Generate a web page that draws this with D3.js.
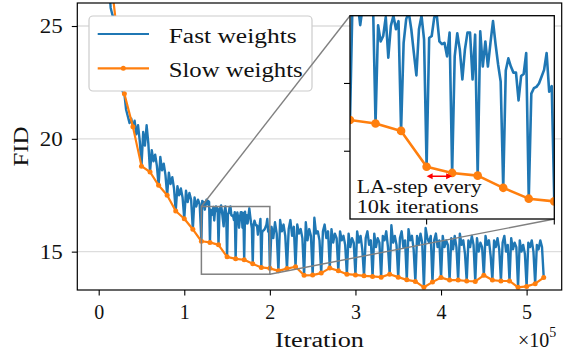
<!DOCTYPE html>
<html><head><meta charset="utf-8">
<script src="https://cdn.jsdelivr.net/npm/d3@7"></script>
<style>
body{margin:0;background:#fff}
svg{display:block}
svg text{font-family:"Liberation Serif","DejaVu Serif","Noto Serif",serif !important;fill:#111}
</style>
</head><body>
<svg id="c" width="569" height="353"></svg>
<script>
// ---------------- data ----------------
// Slow weights: one value every 10k iterations (0 .. 520k)
const slowStep = 10000;
const slowFID = [50, 28.5, 25.2, 22.0, 20.53, 18.79, 18.53, 17.94, 17.50, 16.80,
  16.46, 15.99, 15.46, 15.41, 15.30, 14.77, 14.68, 14.64, 14.46, 14.30,
  14.26, 14.15, 14.25, 14.33, 13.95, 13.96, 14.05, 14.27, 14.15, 14.00,
  13.97, 13.93, 13.90, 13.87, 14.00, 13.87, 13.75, 13.68, 13.42, 13.65,
  13.85, 13.74, 13.74, 13.70, 13.68, 13.95, 13.74, 13.70, 13.70, 13.42,
  13.46, 13.58, 13.85];

// Fast weights, part A: 0 .. 118k every 2k
const fastAStart = 0, fastAStep = 2000;
const fastA = [
  60, 45, 38, 33, 30.5,
  28.5, 26.8, 25.8, 25.5, 25.3,
  25.2, 24.2, 23.3, 22.4, 22.1,
  22.0, 21.3, 21.0, 20.7, 20.9,
  20.53, 20.8, 20.2, 20.6, 19.9,
  18.79, 20.3, 19.7, 20.6, 19.8,
  18.53, 19.5, 19.0, 19.3, 18.8,
  17.94, 19.2, 18.6, 18.9, 18.4,
  17.50, 18.5, 18.0, 18.3, 17.8,
  16.80, 17.9, 17.5, 17.8, 17.4,
  16.46, 17.7, 17.2, 17.6, 17.3,
  15.99, 17.4, 17.0, 17.3, 17.1];
// Fast weights, part B: 120k .. 199k every 1k
const fastBStart = 120000, fastBStep = 1000;
const fastB = [
  15.46, 17.25, 17.1, 17.2, 16.86, 17.15, 17.3, 17.1, 17.25, 17.2,
  15.41, 16.86, 16.62, 16.7, 16.98, 16.38, 16.85, 17.0, 16.8, 16.92,
  15.30, 16.6, 16.95, 17.05, 16.8, 16.45, 16.12, 16.8, 17.0, 16.65,
  14.77, 16.67, 16.7, 16.98, 17.0, 16.62, 16.58, 16.6, 16.4, 16.75,
  14.68, 16.4, 16.74, 16.5, 16.06, 16.5, 16.75, 16.75, 16.06, 16.72,
  14.64, 16.77, 16.25, 16.62, 16.25, 16.6, 16.92, 16.58, 16.28, 16.03,
  14.46, 16.19, 16.37, 16.25, 16.16, 16.16, 15.75, 16.11, 16.14, 16.45,
  14.30, 15.85, 15.93, 15.95, 16.0, 16.1, 16.2, 16.45, 15.88, 15.96];
// Fast weights, part C: 200k .. 520k every 2k
const fastCStart = 200000, fastCStep = 2000;
const fastC = [
  14.26, 16.1, 15.6, 16.3, 15.8,
  14.15, 16.4, 15.9, 16.2, 15.7,
  14.25, 16.0, 16.4, 15.7, 16.1,
  14.33, 16.2, 15.8, 16.0, 15.6,
  13.95, 16.3, 15.5, 16.0, 15.7,
  13.96, 16.5, 15.8, 15.9, 15.5,
  14.05, 15.9, 16.2, 15.6, 15.9,
  14.27, 16.0, 15.4, 15.8, 15.6,
  14.15, 15.9, 15.5, 15.7, 15.3,
  14.00, 15.8, 15.2, 15.6, 15.4,
  13.97, 15.9, 15.4, 15.7, 15.1,
  13.93, 15.6, 15.9, 15.3, 15.5,
  13.90, 15.8, 15.2, 15.6, 15.4,
  13.87, 15.7, 15.5, 15.9, 15.2,
  14.00, 16.17, 15.4, 15.7, 15.3,
  13.87, 15.6, 15.9, 15.2, 15.5,
  13.75, 16.0, 15.5, 15.7, 15.1,
  13.68, 15.7, 15.3, 15.8, 15.4,
  13.42, 16.05, 15.6, 15.4, 15.7,
  13.65, 15.5, 15.8, 15.2, 15.5,
  13.85, 15.7, 15.2, 15.5, 15.3,
  13.74, 15.6, 15.1, 15.7, 15.2,
  13.74, 15.8, 15.3, 15.5, 14.9,
  13.70, 15.5, 15.2, 15.7, 15.3,
  13.68, 15.6, 15.0, 15.4, 15.2,
  13.95, 15.7, 15.3, 15.5, 14.8,
  13.74, 15.5, 15.2, 15.6, 15.1,
  13.70, 15.4, 15.7, 15.0, 15.3,
  13.70, 15.6, 15.1, 15.4, 15.2,
  13.42, 15.5, 15.0, 15.3, 14.9,
  13.46, 15.4, 15.2, 15.5, 15.0,
  13.58, 15.3, 15.1, 15.5, 15.2,
  13.85];

const xTicks = [0, 100000, 200000, 300000, 400000, 500000];
const xTickLabels = ["0", "1", "2", "3", "4", "5"];
const yTicks = [15, 20, 25];
const insetXTicks = [150000, 200000];
const insetYTicks = [15, 16];
const seriesNames = ["Fast weights", "Slow weights"];
const zoomX = [120000, 200000], zoomY = [14, 17];
const laSpan = [150000, 160000], laY = 14.63;

// ---------------- build ----------------
const FONT = '"Liberation Serif","DejaVu Serif","Noto Serif",serif';
const fastPts = [];
fastA.forEach((v, i) => fastPts.push([fastAStart + i * fastAStep, v]));
fastB.forEach((v, i) => fastPts.push([fastBStart + i * fastBStep, v]));
fastC.forEach((v, i) => fastPts.push([fastCStart + i * fastCStep, v]));
const slowPts = slowFID.map((v, i) => [i * slowStep, v]);

const BLUE = "#1f77b4", ORANGE = "#ff7f0e";
const svg = d3.select("#c");
const L = 77.3, R = 561.7, T = 3, B = 290;
const x = d3.scaleLinear().domain([-25000, 541000]).range([L, R]);
const y = d3.scaleLinear().domain([13.3, 26.02]).range([B, T]);

const defs = svg.append("defs");
defs.append("clipPath").attr("id", "mainClip").append("rect")
  .attr("x", L).attr("y", T).attr("width", R - L).attr("height", B - T);

// grid
svg.append("g").selectAll("line").data(yTicks).join("line")
  .attr("x1", L).attr("x2", R).attr("y1", d => y(d)).attr("y2", d => y(d))
  .attr("stroke", "#dddddd").attr("stroke-width", 1.3);

const lineMain = d3.line().x(d => x(d[0])).y(d => y(d[1]));
const gMain = svg.append("g").attr("clip-path", "url(#mainClip)");
gMain.append("path").datum(fastPts).attr("d", lineMain)
  .attr("fill", "none").attr("stroke", BLUE).attr("stroke-width", 2.4).attr("stroke-linejoin", "round");
gMain.append("path").datum(slowPts).attr("d", lineMain)
  .attr("fill", "none").attr("stroke", ORANGE).attr("stroke-width", 2.2).attr("stroke-linejoin", "round");
gMain.selectAll("circle").data(slowPts).join("circle")
  .attr("cx", d => x(d[0])).attr("cy", d => y(d[1])).attr("r", 2.5).attr("fill", ORANGE);

// zoom indicator rectangle
svg.append("rect")
  .attr("x", x(zoomX[0])).attr("y", y(zoomY[1]))
  .attr("width", x(zoomX[1]) - x(zoomX[0])).attr("height", y(zoomY[0]) - y(zoomY[1]))
  .attr("fill", "none").attr("stroke", "#808080").attr("stroke-width", 1.5);

// axes
const FS = 20;
const xAxis = svg.append("g").attr("transform", `translate(0,${B})`)
  .call(d3.axisBottom(x).tickValues(xTicks).tickSize(5.5).tickPadding(9.5)
    .tickFormat((d, i) => xTickLabels[i]));
const yAxis = svg.append("g").attr("transform", `translate(${L},0)`)
  .call(d3.axisLeft(y).tickValues(yTicks).tickSize(5.5).tickPadding(9).tickFormat(d3.format("d")));
[xAxis, yAxis].forEach(g => {
  g.attr("font-family", FONT).attr("font-size", FS);
  g.select(".domain").remove();
  g.selectAll(".tick line").attr("stroke", "#000").attr("stroke-width", 1.1);
  g.selectAll(".tick text").attr("font-size", FS).attr("font-family", FONT).attr("fill", "#111");
});
yAxis.selectAll(".tick text").attr("textLength", 23).attr("lengthAdjust", "spacingAndGlyphs");
svg.append("rect").attr("x", L).attr("y", T).attr("width", R - L).attr("height", B - T)
  .attr("fill", "none").attr("stroke", "#000").attr("stroke-width", 1.2);

function txt(parent, xx, yy, s, size, len) {
  const t = parent.append("text").attr("x", xx).attr("y", yy)
    .attr("font-family", FONT).attr("font-size", size).text(s);
  if (len) t.attr("textLength", len).attr("lengthAdjust", "spacingAndGlyphs");
  return t;
}
txt(svg, (L + R) / 2, 346.7, "Iteration", FS, 89).attr("text-anchor", "middle");
svg.append("text").attr("transform", `translate(28,${(T + B) / 2}) rotate(-90)`)
  .attr("font-family", FONT).attr("text-anchor", "middle").attr("font-size", FS)
  .attr("textLength", 40).attr("lengthAdjust", "spacingAndGlyphs").text("FID");
const mult = svg.append("text").attr("x", 518).attr("y", 346.7).attr("font-family", FONT).attr("font-size", FS);
mult.append("tspan").text("×10");
mult.append("tspan").attr("font-size", 14).attr("dy", -10).text("5");

// legend
const lg = svg.append("g");
lg.append("rect").attr("x", 89).attr("y", 16).attr("width", 223).attr("height", 75).attr("rx", 4)
  .attr("fill", "#fff").attr("stroke", "#cccccc").attr("stroke-width", 1.2);
lg.append("line").attr("x1", 97.7).attr("x2", 149).attr("y1", 34).attr("y2", 34)
  .attr("stroke", BLUE).attr("stroke-width", 2.2);
lg.append("line").attr("x1", 97.7).attr("x2", 149).attr("y1", 68.3).attr("y2", 68.3)
  .attr("stroke", ORANGE).attr("stroke-width", 2.2);
lg.append("circle").attr("cx", 123.3).attr("cy", 68.3).attr("r", 2.5).attr("fill", ORANGE);
txt(lg, 168.7, 43.3, seriesNames[0], FS, 128);
txt(lg, 168.7, 77, seriesNames[1], FS, 134);

// inset
const IX0 = 350, IX1 = 554.3, IY0 = 15.7, IY1 = 219;
const xi = d3.scaleLinear().domain(zoomX).range([IX0, IX1]);
const yi = d3.scaleLinear().domain(zoomY).range([IY1, IY0]);

// connector lines
svg.append("line").attr("x1", x(zoomX[0])).attr("y1", y(zoomY[1])).attr("x2", IX0).attr("y2", IY0)
  .attr("stroke", "#808080").attr("stroke-width", 1.4);
svg.append("line").attr("x1", x(zoomX[1])).attr("y1", y(zoomY[0])).attr("x2", IX1).attr("y2", IY1)
  .attr("stroke", "#808080").attr("stroke-width", 1.4);

defs.append("clipPath").attr("id", "insetClip").append("rect")
  .attr("x", IX0).attr("y", IY0).attr("width", IX1 - IX0).attr("height", IY1 - IY0);
svg.append("rect").attr("x", IX0).attr("y", IY0).attr("width", IX1 - IX0).attr("height", IY1 - IY0)
  .attr("fill", "#fff");
const lineIn = d3.line().x(d => xi(d[0])).y(d => yi(d[1]));
const gIn = svg.append("g").attr("clip-path", "url(#insetClip)");
gIn.append("path").datum(fastPts).attr("d", lineIn)
  .attr("fill", "none").attr("stroke", BLUE).attr("stroke-width", 2.6).attr("stroke-linejoin", "round");
gIn.append("path").datum(slowPts).attr("d", lineIn)
  .attr("fill", "none").attr("stroke", ORANGE).attr("stroke-width", 2.6).attr("stroke-linejoin", "round");
gIn.selectAll("circle").data(slowPts).join("circle")
  .attr("cx", d => xi(d[0])).attr("cy", d => yi(d[1])).attr("r", 4.3).attr("fill", ORANGE);

// red double arrow
const ax0 = xi(laSpan[0]), ax1 = xi(laSpan[1]), ay = yi(laY);
gIn.append("line").attr("x1", ax0 + 4).attr("x2", ax1 - 4).attr("y1", ay).attr("y2", ay)
  .attr("stroke", "red").attr("stroke-width", 1.6);
gIn.append("path").attr("d", `M${ax0},${ay} l6,-3 l0,6 Z M${ax1},${ay} l-6,-3 l0,6 Z`).attr("fill", "red");

txt(gIn, 356.7, 193.3, "LA-step every", 18, 125);
txt(gIn, 356.7, 213.3, "10k iterations", 18, 122);

// inset ticks and frame
svg.append("g").selectAll("line").data(insetYTicks).join("line")
  .attr("x1", IX0 - 6).attr("x2", IX0).attr("y1", d => yi(d)).attr("y2", d => yi(d))
  .attr("stroke", "#000").attr("stroke-width", 1.1);
svg.append("g").selectAll("line").data(insetXTicks).join("line")
  .attr("y1", IY1).attr("y2", IY1 + 5.5).attr("x1", d => xi(d)).attr("x2", d => xi(d))
  .attr("stroke", "#000").attr("stroke-width", 1.1);
svg.append("rect").attr("x", IX0).attr("y", IY0).attr("width", IX1 - IX0).attr("height", IY1 - IY0)
  .attr("fill", "none").attr("stroke", "#000").attr("stroke-width", 1.3);
</script>
</body></html>
